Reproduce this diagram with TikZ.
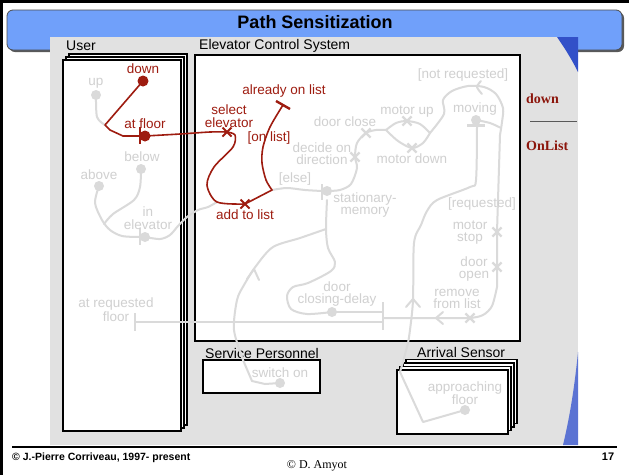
\documentclass[tikz,border=0pt]{standalone}
\usepackage{fontspec}
\setmainfont{Liberation Serif}
\setsansfont{Liberation Sans}
\usetikzlibrary{shapes.misc}

\definecolor{panelgray}{RGB}{225,225,225}
\definecolor{titleblue}{RGB}{112,160,250}
\definecolor{edgeblue}{RGB}{50,80,200}
\definecolor{faint}{RGB}{218,218,218}
\definecolor{fainttext}{RGB}{208,208,208}
\definecolor{ucmred}{RGB}{158,28,16}
\definecolor{notered}{RGB}{140,22,12}

\tikzset{
  lbl/.style={font=\sffamily\fontsize{13.5}{12.5}\selectfont, inner sep=0pt, align=center},
  ghost/.style={lbl, text=fainttext},
  redlbl/.style={lbl, text=ucmred},
  caption/.style={lbl, font=\sffamily\fontsize{14}{14}\selectfont, anchor=west, text=black},
  gline/.style={draw=faint, line width=2pt, line join=round, line cap=round},
  rline/.style={draw=ucmred, line width=1.6pt, line join=round, line cap=round},
  gx/.style={cross out, draw=faint, line width=2.2pt, minimum size=7pt, inner sep=0pt},
  rx/.style={cross out, draw=ucmred, line width=2pt, minimum size=7pt, inner sep=0pt},
  gbar/.style={draw=faint, line width=2.6pt},
  rbar/.style={draw=ucmred, line width=2.4pt},
  comp/.style={draw=black, fill=white, line width=1.4pt},
  note/.style={font=\rmfamily\bfseries\fontsize{14}{14}\selectfont, text=notered, anchor=west, inner sep=0pt},
}

\begin{document}
\begin{tikzpicture}[x=1pt,y=-1pt]
\useasboundingbox (0,0) rectangle (629,475);
\fill[white] (0,0) rectangle (629,475);

% page frame
\draw[line width=2.5pt] (0,1.5) -- (629,1.5);
\draw[line width=2.5pt] (1.5,0) -- (1.5,475);

% title bar
\fill[gray!70!black, rounded corners=6pt] (9,12) rectangle (624,52);
\draw[fill=titleblue, draw=gray!60!black, line width=0.8pt, rounded corners=6pt] (7,10) rectangle (622,50);
\node[font=\sffamily\bfseries\fontsize{18}{18}\selectfont, inner sep=0pt] (title) at (315,22) {Path Sensitization};

% embedded slide panel
\fill[panelgray] (50,37) rectangle (578,445);
\fill[edgeblue] (557,37) .. controls (566,50) and (572,60) .. (578,72) -- (578,37) -- cycle;
\fill[edgeblue!80!white] (578,352) .. controls (574,392) and (569,420) .. (563,445) -- (578,445) -- cycle;

% footer
\draw[line width=1.2pt] (12,447) -- (617,447);
\node[font=\sffamily\bfseries\fontsize{10.5}{12}\selectfont, anchor=west, inner sep=0pt] (copyA) at (12,458) {© J.-Pierre Corriveau, 1997- present};
\node[font=\rmfamily\fontsize{12}{14}\selectfont, inner sep=0pt] (copyB) at (317,466) {© D. Amyot};
\node[font=\sffamily\bfseries\fontsize{11}{12}\selectfont, inner sep=0pt] (pageno) at (608,457) {17};

% path annotation
\node[note] (noteA) at (526,99) {down};
\node[note] (noteB) at (526,146) {OnList};
\draw[gray!70!black, line width=0.8pt] (530,121) -- (577,121);

% components
\draw[comp] (69,54) rectangle (187,425);
\draw[comp] (66,57) rectangle (184,428);
\draw[comp] (63,60) rectangle (181,431);
\node[caption] (userlbl) at (66,46) {User};

\draw[comp, line width=2pt] (195,55) rectangle (520,341);
\node[caption] (ecslbl) at (199,46) {Elevator Control System};

\draw[comp] (203,360) rectangle (320,393);
\node[caption] (splbl) at (205,353) {Service Personnel};

\foreach \k in {3,2,1,0}
  \draw[comp] ({397+3*\k},{370-3.5*\k}) rectangle ({508+3*\k},{434-3.5*\k});
\node[caption] (aslbl) at (417,352) {Arrival Sensor};

% UCM points
\coordinate (pUp) at (96,95);
\coordinate (pDown) at (143,81);
\coordinate (jUser) at (105,125);
\coordinate (pFloor) at (145,136);
\coordinate (pAbove) at (99,186);
\coordinate (pBelow) at (141,169);
\coordinate (pInElev) at (145,237);
\coordinate (xSelect) at (227,132);
\coordinate (xAdd) at (245,204);
\coordinate (jElse) at (272,190);
\coordinate (eOnList) at (283,105);
\coordinate (pStat) at (327,191);
\coordinate (xDecide) at (355,157);
\coordinate (xClose) at (366,133);
\coordinate (fMotor) at (386,130);
\coordinate (jMotor) at (430,133);
\coordinate (xUp) at (407,121);
\coordinate (xMDown) at (412,148);
\coordinate (pMoving) at (476,120);
\coordinate (xStop) at (497,232);
\coordinate (xOpen) at (497,267);
\coordinate (xRemove) at (470,318);
\coordinate (fBar) at (383,318);
\coordinate (pDelay) at (332,312);
\coordinate (eReq) at (135,322);
\coordinate (jStat) at (326,229);
\coordinate (pSwitch) at (280,383);
\coordinate (pApproach) at (465,410);

% faint paths
\draw[gline] plot[smooth,tension=0.5] coordinates {(pUp) (97,117) (jUser)};
\draw[gline] plot[smooth,tension=0.5] coordinates {(pAbove) (95,203) (102,220) (110,230) (122,236) (140,237)};
\draw[gline] plot[smooth,tension=0.5] coordinates {(pBelow) (140,187) (134,200) (113,214) (104,224)};
\draw[gline] plot[smooth,tension=0.5] coordinates {(pInElev) (160,239) (170,235) (178,226) (187,217) (198,210) (208,207) (217,202)};
\draw[gline] (eReq) -- (383,322);
\draw[gbar] (135,313) -- (135,331);
\draw[gbar] (383,302) -- (383,330);
\draw[gline] plot[smooth,tension=0.5] coordinates {(jElse) (287,188) (305,190) (322,191)};
\draw[gline] plot[smooth,tension=0.5] coordinates {(pStat) (340,190) (351,184) (357,168) (xDecide) (357,143) (xClose) (376,130) (fMotor)};
\draw[gline] plot[smooth,tension=0.5] coordinates {(fMotor) (396,123) (xUp) (420,124) (jMotor)};
\draw[gline] plot[smooth,tension=0.5] coordinates {(fMotor) (398,141) (xMDown) (423,143) (jMotor)};
\draw[gline] plot[smooth,tension=0.5] coordinates {(jMotor) (444,114) (443,100) (452,91) (468,86) (484,87) (496,94) (503,108) (502,122) (500,135)};
\draw[gline] (500,135) -- (xStop) -- (xOpen) -- (497,287);
\draw[gline] plot[smooth,tension=0.5] coordinates {(497,287) (492,306) (483,315) (xRemove) (450,318) (fBar)};
\draw[gline] plot[smooth,tension=0.5] coordinates {(pMoving) (490,123) (501,128)};
\draw[gline] plot[smooth,tension=0.5] coordinates {(481,81) (477,87) (482,94)};
\draw[gline] (pApproach) -- (423,422) -- (400,372) -- (403,362) -- (408,343);
\draw[gline] plot[smooth,tension=0.5] coordinates {(408,343) (410,330) (413,300) (414,243) (421,225) (427,211) (437,200) (470,187) (476,180) (477,125)};
\draw[gline] (pDelay) -- (383,312);
\draw[gline] plot[smooth,tension=0.5] coordinates {(pDelay) (307,314) (291,309) (287,296) (293,287) (308,283) (331,271) (335,262) (328,248) (jStat) (327,200)};
\draw[gline] plot[smooth,tension=0.5] coordinates {(jStat) (300,238) (273,247) (256,266) (244,285) (237,300) (234,330) (243,360)};
\draw[gline] (243,360) -- (252,381) -- (265,384) -- (pSwitch);
% direction chevrons
\draw[gline] (247,279) -- (254,269) -- (259,280);
\draw[gline] (406,307) -- (413,299) -- (420,307);
\draw[gline] (443,312) -- (436,318) -- (443,324);

% faint start points, waiting places and bars
\foreach \p in {pUp,pAbove,pBelow,pInElev,pStat,pMoving,pDelay,pSwitch,pApproach}
  \fill[faint] (\p) circle (5pt);
\draw[gbar] (140,228) -- (140,245);
\draw[gbar] (322,184) -- (322,200);
\draw[gbar] (467,125.5) -- (485,125.5);

% faint responsibilities
\foreach \p in {xDecide,xClose,xUp,xMDown,xStop,xOpen,xRemove}
  \node[gx] at (\p) {};

% highlighted path
\draw[rline] (pDown) -- (jUser) -- (110,130) -- (123,136) -- (pFloor);
\draw[rline] plot[smooth,tension=0.5] coordinates {(pFloor) (180,134) (210,132) (xSelect)};
\draw[rline] plot[smooth,tension=0.5] coordinates {(xSelect) (235,135) (233,147) (214,167) (207,185) (217,202) (xAdd)};
\draw[rline] (xAdd) -- (jElse);
\draw[rline] plot[smooth,tension=0.5] coordinates {(jElse) (266,180) (262,163) (263,147) (270,127) (eOnList)};
\draw[rbar] (276,101) -- (290,109);
\draw[rbar] (140,127) -- (140,144);
\fill[ucmred] (pDown) circle (5.5pt);
\fill[ucmred] (pFloor) circle (5.5pt);
\node[rx] at (xSelect) {};
\node[rx] at (xAdd) {};

% faint labels
\node[ghost] (tUp) at (96,83) {up};
\node[ghost] (tBelow) at (142,157) {below};
\node[ghost] (tAbove) at (99,175) {above};
\node[ghost] (tInElev) at (148,218) {in\\elevator};
\node[ghost] (tReq) at (116,309.5) {at requested\\floor};
\node[ghost] (tClose) at (345,122) {door close};
\node[ghost] (tDecide) at (322,153.5) {decide on\\direction};
\node[ghost] (tElse) at (295,179) {[else]};
\node[ghost] (tStat) at (365,205) {stationary-\\memory};
\node[ghost] (tMUp) at (407,112) {motor up};
\node[ghost] (tMDown) at (412,159) {motor down};
\node[ghost] (tNotReq) at (463,75) {[not requested]};
\node[ghost] (tMoving) at (475,109) {moving};
\node[ghost] (tRequested) at (482,204) {[requested]};
\node[ghost] (tStop) at (470,232.5) {motor\\stop};
\node[ghost] (tOpen) at (474,269) {door\\open};
\node[ghost] (tRemove) at (457,299) {remove\\from list};
\node[ghost] (tDelay) at (337,294) {door\\closing-delay};
\node[ghost] (tSwitch) at (280,373) {switch on};
\node[ghost] (tApproach) at (465,393) {approaching\\floor};

% highlighted labels
\node[redlbl] (tDown) at (143,69) {down};
\node[redlbl] (tFloor) at (145,124) {at floor};
\node[redlbl] (tSelect) at (229,116) {select\\elevator};
\node[redlbl] (tOnList) at (269,138) {[on list]};
\node[redlbl] (tAlready) at (284,91) {already on list};
\node[redlbl] (tAdd) at (245,215) {add to list};
\end{tikzpicture}
\end{document}
